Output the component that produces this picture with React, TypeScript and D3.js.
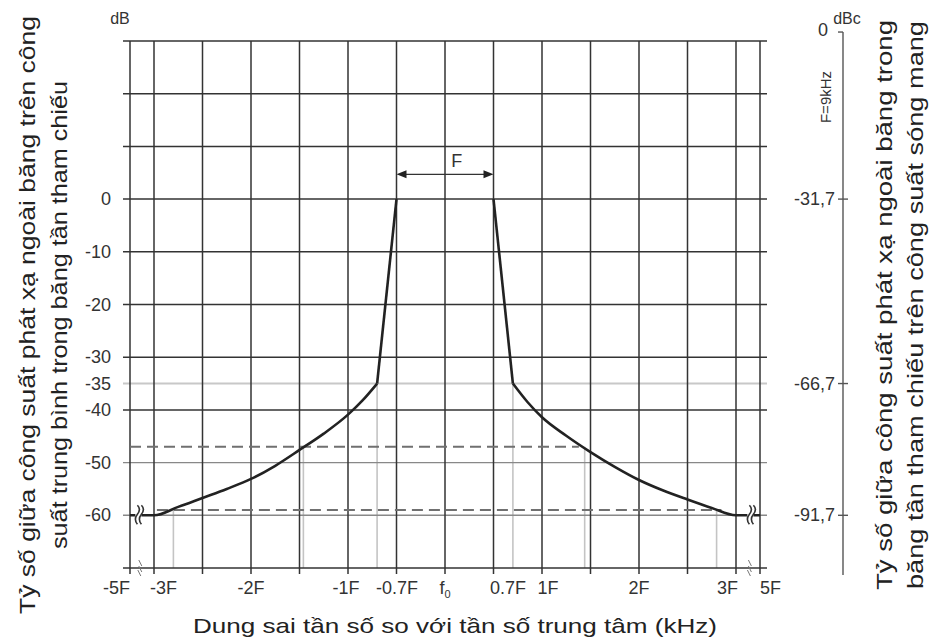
import React, { useEffect, useRef } from 'react';
import * as d3 from 'd3';

// x in units of F (bandwidth), y in dB relative to mean in-band power
const xGridValues = [-3, -2.5, -2, -1.5, -1, -0.5, 0, 0.5, 1, 1.5, 2, 2.5, 3];
const xEdges = [-5, 5];
const xTickValues = [-5, -3, -2, -1, -0.7, 0, 0.7, 1, 2, 3, 5];
const xTickLabels = ['-5F', '-3F', '-2F', '-1F', '-0.7F', 'f0', '0.7F', '1F', '2F', '3F', '5F'];

const yGridDark = [30, 20, 10, 0, -10, -20, -30, -40, -70];
const yGridMid = [-50, -60];
const yGridLight = [-35];
const yTickValues = [0, -10, -20, -30, -35, -40, -50, -60];

const dbcTicks = [0, -31.7, -66.7, -91.7];
const dbcLabels = ['0', '-31,7', '-66,7', '-91,7'];
const dbcOffset = 31.7;

// mask
const leftSkirt: [number, number][] = [
  [-5, -60], [-3, -60], [-2.75, -58.4], [-2.5, -56.7], [-2.25, -55], [-2, -53.1],
  [-1.75, -50.6], [-1.5, -47.6], [-1.25, -44.5], [-1, -40.9], [-0.85, -38.2], [-0.7, -35],
];
const rightSkirt: [number, number][] = [
  [0.7, -35], [0.85, -38.5], [1, -41.4], [1.25, -44.9], [1.5, -48], [1.75, -50.8],
  [2, -53.3], [2.25, -55.3], [2.5, -57], [2.75, -58.6], [3, -60], [5, -60],
];
const leftFlank: [number, number][] = [[-0.7, -35], [-0.5, 0]];
const rightFlank: [number, number][] = [[0.5, 0], [0.7, -35]];

// projection (light) verticals from the mask down to the axis
const dropLines: [number, number][] = [
  [-2.8, -59], [-1.46, -47], [-0.7, -35], [0.7, -35], [1.44, -47], [2.8, -59],
];
// dashed reference levels: [dB, from F, to F]
const dashedLevels: [number, number, number][] = [
  [-47, -5, 1.38],
  [-59, -2.97, 2.85],
];

const xTitle = 'Dung sai tần số so với tần số trung tâm (kHz)';
const leftTitle = ['Tỷ số giữa công suất phát xạ ngoài băng trên công', 'suất trung bình trong băng tần tham chiếu'];
const rightTitle = ['Tỷ số giữa công suất phát xạ ngoài băng trong', 'băng tần tham chiếu trên công suất sóng mang'];

const App: React.FC = () => {
  const ref = useRef<SVGSVGElement>(null);

  useEffect(() => {
    if (!ref.current) return;
    const svg = d3.select(ref.current);
    svg.selectAll('*').remove();

    const font = '"Liberation Sans", Arial, sans-serif';
    const x = d3.scaleLinear().domain([-5, -3, 3, 5]).range([130, 154, 736, 760]);
    const y = d3.scaleLinear().domain([-70, 30]).range([568, 41]);
    const yR = d3.scaleLinear().domain([-70 - dbcOffset, 30 - dbcOffset]).range([568, 41]);

    const g = svg.append('g');

    // projection lines
    g.selectAll('.drop')
      .data(dropLines)
      .enter().append('line')
      .attr('x1', d => x(d[0])).attr('x2', d => x(d[0]))
      .attr('y1', d => y(d[1])).attr('y2', y(-70))
      .attr('stroke', '#c4c4c4').attr('stroke-width', 1.6);

    // horizontal grid
    const hLine = (vals: number[], color: string, w: number) => {
      g.selectAll(null)
        .data(vals)
        .enter().append('line')
        .attr('x1', 123).attr('x2', 767)
        .attr('y1', d => y(d)).attr('y2', d => y(d))
        .attr('stroke', color).attr('stroke-width', w);
    };
    hLine(yGridLight, '#c8c8c8', 2);
    hLine(yGridMid, '#888', 1.4);
    hLine(yGridDark, '#333', 1.5);

    // vertical grid
    g.selectAll('.vgrid')
      .data([...xEdges, ...xGridValues])
      .enter().append('line')
      .attr('x1', d => x(d)).attr('x2', d => x(d))
      .attr('y1', y(30)).attr('y2', y(-70) + 6)
      .attr('stroke', '#333').attr('stroke-width', 1.5);

    // dashed levels
    g.selectAll('.dash')
      .data(dashedLevels)
      .enter().append('line')
      .attr('x1', d => x(d[1])).attr('x2', d => x(d[2]))
      .attr('y1', d => y(d[0])).attr('y2', d => y(d[0]))
      .attr('stroke', '#707070').attr('stroke-width', 2)
      .attr('stroke-dasharray', '11,6');

    // mask
    const line = d3.line<[number, number]>()
      .x(d => x(d[0])).y(d => y(d[1]))
      .curve(d3.curveMonotoneX);
    [leftSkirt, rightSkirt].forEach(pts => {
      g.append('path').attr('d', line(pts) || '')
        .attr('fill', 'none').attr('stroke', '#222').attr('stroke-width', 2.6);
    });
    const straight = d3.line<[number, number]>().x(d => x(d[0])).y(d => y(d[1]));
    [leftFlank, rightFlank].forEach(pts => {
      g.append('path').attr('d', straight(pts) || '')
        .attr('fill', 'none').attr('stroke', '#222').attr('stroke-width', 2.6);
    });

    // break marks
    const breakAt = (cx: number, cy: number) => {
      g.append('rect').attr('x', cx - 3).attr('y', cy - 9).attr('width', 6).attr('height', 18).attr('fill', '#fff');
      g.append('path')
        .attr('d', `M${cx - 1},${cy - 10} q4,4 0,9 q-4,5 0,10`)
        .attr('fill', 'none').attr('stroke', '#333').attr('stroke-width', 1.6);
      g.append('path')
        .attr('d', `M${cx + 3},${cy - 10} q4,4 0,9 q-4,5 0,10`)
        .attr('fill', 'none').attr('stroke', '#333').attr('stroke-width', 1.6);
    };
    breakAt(x(-4.3), y(-60));
    breakAt(x(4.2), y(-60));
    const axisBreak = (cx: number, cy: number) => {
      g.append('path')
        .attr('d', `M${cx - 2},${cy - 8} l3,6 M${cx - 2},${cy - 2} l3,6 M${cx - 3},${cy + 2} l3,6`)
        .attr('stroke', '#777').attr('stroke-width', 1);
    };
    axisBreak(x(-4.1), y(-70));
    axisBreak(x(4.2), y(-70));

    // F arrow
    const arrowY = y(4.7);
    g.append('line')
      .attr('x1', x(-0.5) + 8).attr('x2', x(0.5) - 8)
      .attr('y1', arrowY).attr('y2', arrowY)
      .attr('stroke', '#333').attr('stroke-width', 1.3);
    g.append('path')
      .attr('d', `M${x(-0.5)},${arrowY} l10,-4 l0,8 Z M${x(0.5)},${arrowY} l-10,-4 l0,8 Z`)
      .attr('fill', '#222');
    g.append('text')
      .attr('x', x(0.12)).attr('y', y(7.2) + 6)
      .attr('text-anchor', 'middle')
      .style('font-family', font).style('font-size', '18px').attr('fill', '#333')
      .text('F');

    // y tick labels (left)
    g.selectAll('.ylab')
      .data(yTickValues)
      .enter().append('text')
      .attr('x', 111).attr('y', d => y(d) + 6)
      .attr('text-anchor', 'end')
      .style('font-family', font).style('font-size', '18px').attr('fill', '#333')
      .text(d => String(d));
    g.append('text')
      .attr('x', 120).attr('y', 24).attr('text-anchor', 'middle')
      .style('font-family', font).style('font-size', '16px').attr('fill', '#333')
      .text('dB');

    // x tick labels
    const anchorFor = (v: number) => (v === -5 || v === 3 ? 'end' : v === -3 || v === 5 ? 'start' : 'middle');
    const shiftFor = (v: number) =>
      v === -3 ? -4 : v === 3 ? 2 : v === -0.7 ? 20 : v === 0.7 ? -5 : v === 1 ? 6 : v === -1 ? -2 : 0;
    const xl = g.selectAll('.xlab')
      .data(xTickValues)
      .enter().append('text')
      .attr('x', d => x(d) + shiftFor(d)).attr('y', 594)
      .attr('text-anchor', d => anchorFor(d))
      .style('font-family', font).style('font-size', '18px').attr('fill', '#333');
    xl.each(function (d, i) {
      const t = d3.select(this);
      const lab = xTickLabels[i];
      if (lab === 'f0') {
        t.append('tspan').text('f');
        t.append('tspan').attr('dy', 4).style('font-size', '11px').text('0');
      } else {
        t.text(lab);
      }
    });

    // right dBc axis
    const axX = 843;
    g.append('line')
      .attr('x1', axX).attr('x2', axX)
      .attr('y1', yR(0)).attr('y2', 575)
      .attr('stroke', '#555').attr('stroke-width', 1.4);
    g.selectAll('.rtick')
      .data(dbcTicks)
      .enter().append('line')
      .attr('x1', axX - 5).attr('x2', d => (d === 0 ? axX : axX + 5))
      .attr('y1', d => yR(d)).attr('y2', d => yR(d))
      .attr('stroke', '#555').attr('stroke-width', 1.4);
    g.selectAll('.rlab')
      .data(dbcTicks)
      .enter().append('text')
      .attr('x', d => (d === 0 ? 828 : 835))
      .attr('y', d => yR(d) + (d === 0 ? 4 : 6))
      .attr('text-anchor', 'end')
      .style('font-family', font).style('font-size', '18px').attr('fill', '#333')
      .text((d, i) => dbcLabels[i]);
    g.append('text')
      .attr('x', 847).attr('y', 24).attr('text-anchor', 'middle')
      .style('font-family', font).style('font-size', '16px').attr('fill', '#333')
      .text('dBc');
    g.append('text')
      .attr('transform', 'translate(831,97) rotate(-90)')
      .attr('text-anchor', 'middle')
      .style('font-family', font).style('font-size', '15px').attr('fill', '#333')
      .text('F=9kHz');

    // titles
    g.append('text')
      .attr('x', 455).attr('y', 633).attr('text-anchor', 'middle')
      .attr('textLength', 524).attr('lengthAdjust', 'spacingAndGlyphs')
      .style('font-family', font).style('font-size', '21px').attr('fill', '#222')
      .text(xTitle);

    const leftLens = [598, 468];
    leftTitle.forEach((s, i) => {
      g.append('text')
        .attr('transform', `translate(${35 + i * 32},315) rotate(-90)`)
        .attr('text-anchor', 'middle')
        .attr('textLength', leftLens[i]).attr('lengthAdjust', 'spacingAndGlyphs')
        .style('font-family', font).style('font-size', '22px').attr('fill', '#222')
        .text(s);
    });
    const rightLens = [570, 568];
    rightTitle.forEach((s, i) => {
      g.append('text')
        .attr('transform', `translate(${892 + i * 31},305) rotate(-90)`)
        .attr('text-anchor', 'middle')
        .attr('textLength', rightLens[i]).attr('lengthAdjust', 'spacingAndGlyphs')
        .style('font-family', font).style('font-size', '22px').attr('fill', '#222')
        .text(s);
    });
  }, []);

  return (
    <div style={{ position: 'absolute', left: 0, top: 0, background: '#fff' }}>
      <svg ref={ref} width={935} height={643} style={{ display: 'block' }}></svg>
    </div>
  );
};

export default App;
